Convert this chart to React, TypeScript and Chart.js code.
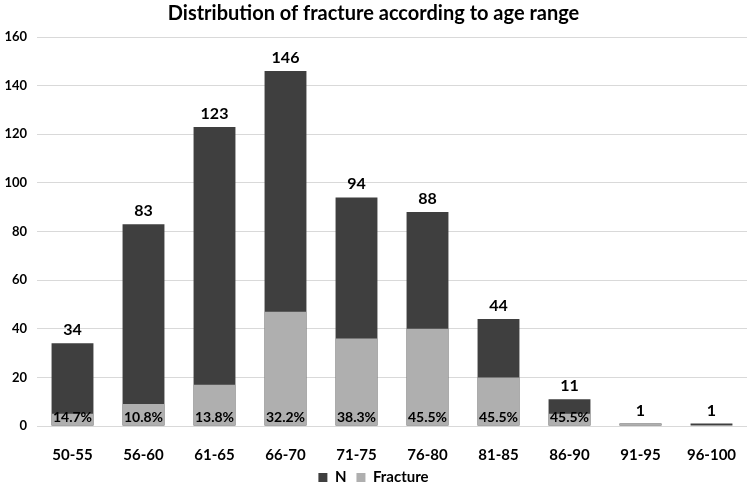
import React, { useEffect, useRef } from "react";
import { Chart, registerables } from "chart.js";

Chart.register(...registerables);

const categories = ["50-55", "56-60", "61-65", "66-70", "71-75", "76-80", "81-85", "86-90", "91-95", "96-100"];
const nValues = [34, 83, 123, 146, 94, 88, 44, 11, 1, 1];
const fractureValues = [5, 9, 17, 47, 36, 40, 20, 5, 1, 0];
const percentLabels = ["14.7%", "10.8%", "13.8%", "32.2%", "38.3%", "45.5%", "45.5%", "45.5%", "", ""];
const yTicks = [0, 20, 40, 60, 80, 100, 120, 140, 160];

const FONT = "'Lato', sans-serif";

const labelPlugin = {
  id: "barLabels",
  afterDatasetsDraw(chart: any) {
    const ctx = chart.ctx;
    const yScale = chart.scales.y;
    const metaN = chart.getDatasetMeta(0);
    ctx.save();
    ctx.fillStyle = "#000";
    ctx.textAlign = "center";
    ctx.textBaseline = "alphabetic";
    ctx.font = `bold 16px ${FONT}`;
    metaN.data.forEach((bar: any, i: number) => {
      ctx.fillText(String(nValues[i]), bar.x, bar.y - 8);
    });
    ctx.font = `bold 14px ${FONT}`;
    const zero = yScale.getPixelForValue(0);
    metaN.data.forEach((bar: any, i: number) => {
      if (percentLabels[i]) ctx.fillText(percentLabels[i], bar.x, zero - 4);
    });
    ctx.restore();
  },
};

const legendFitPlugin = {
  id: "legendFit",
  beforeLayout(chart: any) {
    const lg = chart.legend;
    if (lg && !lg._patched) {
      lg._patched = true;
      const origFit = lg.fit;
      lg.fit = function () {
        origFit.call(this);
        this.height = 23;
      };
    }
  },
};

export default function App() {
  const ref = useRef<HTMLCanvasElement | null>(null);
  useEffect(() => {
    if (!ref.current) return;
    const chart = new Chart(ref.current, {
      type: "bar",
      data: {
        labels: categories,
        datasets: [
          {
            label: "N",
            data: nValues,
            backgroundColor: "#3f3f3f",
            order: 1,
            grouped: false,
            categoryPercentage: 0.59,
            barPercentage: 1,
          } as any,
          {
            label: "Fracture",
            data: fractureValues,
            backgroundColor: "#afafaf",
            order: 0,
            grouped: false,
            categoryPercentage: 0.59,
            barPercentage: 1,
          } as any,
        ],
      },
      options: {
        animation: false,
        responsive: false,
        layout: { padding: { left: 0, right: 2, top: 2, bottom: 0 } },
        plugins: {
          title: {
            display: true,
            text: "Distribution of fracture according to age range",
            color: "#000",
            font: { family: FONT, size: 20, weight: "bold" },
            padding: { top: 0, bottom: 11 },
          },
          legend: {
            position: "bottom",
            labels: {
              sort: (a: any, b: any) => a.datasetIndex - b.datasetIndex,
              boxWidth: 9,
              boxHeight: 9,
              color: "#000",
              font: { family: FONT, size: 15, weight: "bold" },
              padding: 10,
            },
          },
          tooltip: { enabled: false },
        },
        scales: {
          x: {
            grid: { display: false },
            border: { display: false },
            ticks: { color: "#000", font: { family: FONT, size: 15, weight: "bold" }, padding: 12 },
            afterFit: (scale: any) => {
              scale.height = 34;
            },
          },
          y: {
            min: 0,
            max: 160,
            afterBuildTicks: (scale: any) => {
              scale.ticks = yTicks.map((v) => ({ value: v }));
            },
            grid: { color: "#d9d9d9", lineWidth: 1, drawTicks: false },
            border: { display: false },
            ticks: { color: "#000", font: { family: FONT, size: 13, weight: "bold" }, padding: 10 },
            afterFit: (scale: any) => {
              scale.width = 37;
            },
          },
        },
      },
      plugins: [labelPlugin, legendFitPlugin],
    });
    return () => chart.destroy();
  }, []);
  return (
    <div style={{ position: "absolute", left: 0, top: 0, width: 749, height: 483, background: "#fff" }}>
      <canvas ref={ref} width={749} height={483} style={{ width: 749, height: 483 }} />
    </div>
  );
}
